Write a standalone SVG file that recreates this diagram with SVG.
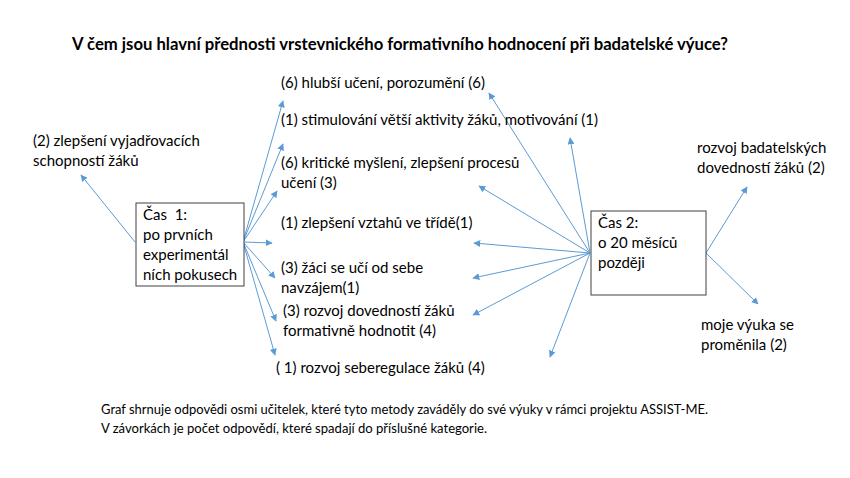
<svg xmlns="http://www.w3.org/2000/svg" width="850" height="478" viewBox="0 0 850 478">
<style>
text{font-family:Lato,"Noto Sans",sans-serif;fill:#000;}
.t{font-size:15px;}
.title{font-size:16.5px;font-weight:bold;}
.foot{font-size:13px;}
.box{fill:#fff;stroke:#404040;stroke-width:1;}
.c line{stroke:#5B9BD5;stroke-width:1;marker-end:url(#ah);}
</style>
<defs>
<marker id="ah" viewBox="0 0 10 10" refX="9" refY="5" markerWidth="7" markerHeight="7" orient="auto" markerUnits="userSpaceOnUse">
<path d="M0,0 L10,5 L0,10 z" fill="#5B9BD5"/>
</marker>
</defs>
<rect width="850" height="478" fill="#fff"/>
<text class="title" x="72" y="50" textLength="656" lengthAdjust="spacingAndGlyphs">V čem jsou hlavní přednosti vrstevnického formativního hodnocení při badatelské výuce?</text>
<g class="c" id="connectors">
<line x1="135" y1="242" x2="81" y2="175"/>
<line x1="243" y1="242" x2="283" y2="101"/>
<line x1="243" y1="242" x2="283" y2="144"/>
<line x1="243" y1="242" x2="277" y2="191"/>
<line x1="243" y1="242" x2="272" y2="243"/>
<line x1="243" y1="242" x2="275" y2="278"/>
<line x1="243" y1="242" x2="276" y2="321"/>
<line x1="243" y1="242" x2="275" y2="355"/>
<line x1="590" y1="253" x2="489" y2="93"/>
<line x1="590" y1="253" x2="570" y2="138"/>
<line x1="590" y1="253" x2="479" y2="186"/>
<line x1="590" y1="253" x2="474" y2="243"/>
<line x1="590" y1="253" x2="473" y2="278"/>
<line x1="590" y1="253" x2="473" y2="315"/>
<line x1="590" y1="253" x2="550" y2="357"/>
<line x1="706" y1="253" x2="747" y2="187"/>
<line x1="706" y1="253" x2="758" y2="304"/>
</g>
<g id="cas1">
<rect class="box" x="136" y="203" width="108" height="83"/>
<text class="t" x="143" y="220">Čas&#160; 1:</text>
<text class="t" x="143" y="240">po prvních</text>
<text class="t" x="143" y="260">experimentál</text>
<text class="t" x="143" y="280">ních pokusech</text>
</g>
<g id="cas2">
<rect class="box" x="591" y="211" width="115" height="84"/>
<text class="t" x="598" y="228">Čas 2:</text>
<text class="t" x="598" y="248">o 20 měsíců</text>
<text class="t" x="598" y="268">později</text>
</g>
<g id="n-vyjadrovaci"><text class="t" x="33" y="146">(2) zlepšení vyjadřovacích</text><text class="t" x="33" y="166">schopností žáků</text></g>
<g id="n-hlubsi"><text class="t" x="281" y="88">(6) hlubší učení, porozumění (6)</text></g>
<g id="n-stimulovani"><text class="t" x="281" y="125">(1) stimulování větší aktivity žáků, motivování (1)</text></g>
<g id="n-kriticke"><text class="t" x="281" y="168">(6) kritické myšlení, zlepšení procesů</text><text class="t" x="281" y="188">učení (3)</text></g>
<g id="n-vztahy"><text class="t" x="281" y="228">(1) zlepšení vztahů ve třídě(1)</text></g>
<g id="n-zaci"><text class="t" x="281" y="273">(3) žáci se učí od sebe</text><text class="t" x="281" y="293">navzájem(1)</text></g>
<g id="n-dovednosti"><text class="t" x="283" y="316">(3) rozvoj dovedností žáků</text><text class="t" x="283" y="336">formativně hodnotit (4)</text></g>
<g id="n-seberegulace"><text class="t" x="276" y="373">( 1) rozvoj seberegulace žáků (4)</text></g>
<g id="n-badatelske"><text class="t" x="697" y="153">rozvoj badatelských</text><text class="t" x="697" y="173">dovedností žáků (2)</text></g>
<g id="n-vyuka"><text class="t" x="701" y="330">moje výuka se</text><text class="t" x="701" y="350">proměnila (2)</text></g>
<text class="foot" x="101" y="414" textLength="607" lengthAdjust="spacingAndGlyphs">Graf shrnuje odpovědi osmi učitelek, které tyto metody zaváděly do své výuky v rámci projektu ASSIST-ME.</text>
<text class="foot" x="101" y="433" textLength="386" lengthAdjust="spacingAndGlyphs">V závorkách je počet odpovědí, které spadají do příslušné kategorie.</text>
</svg>
